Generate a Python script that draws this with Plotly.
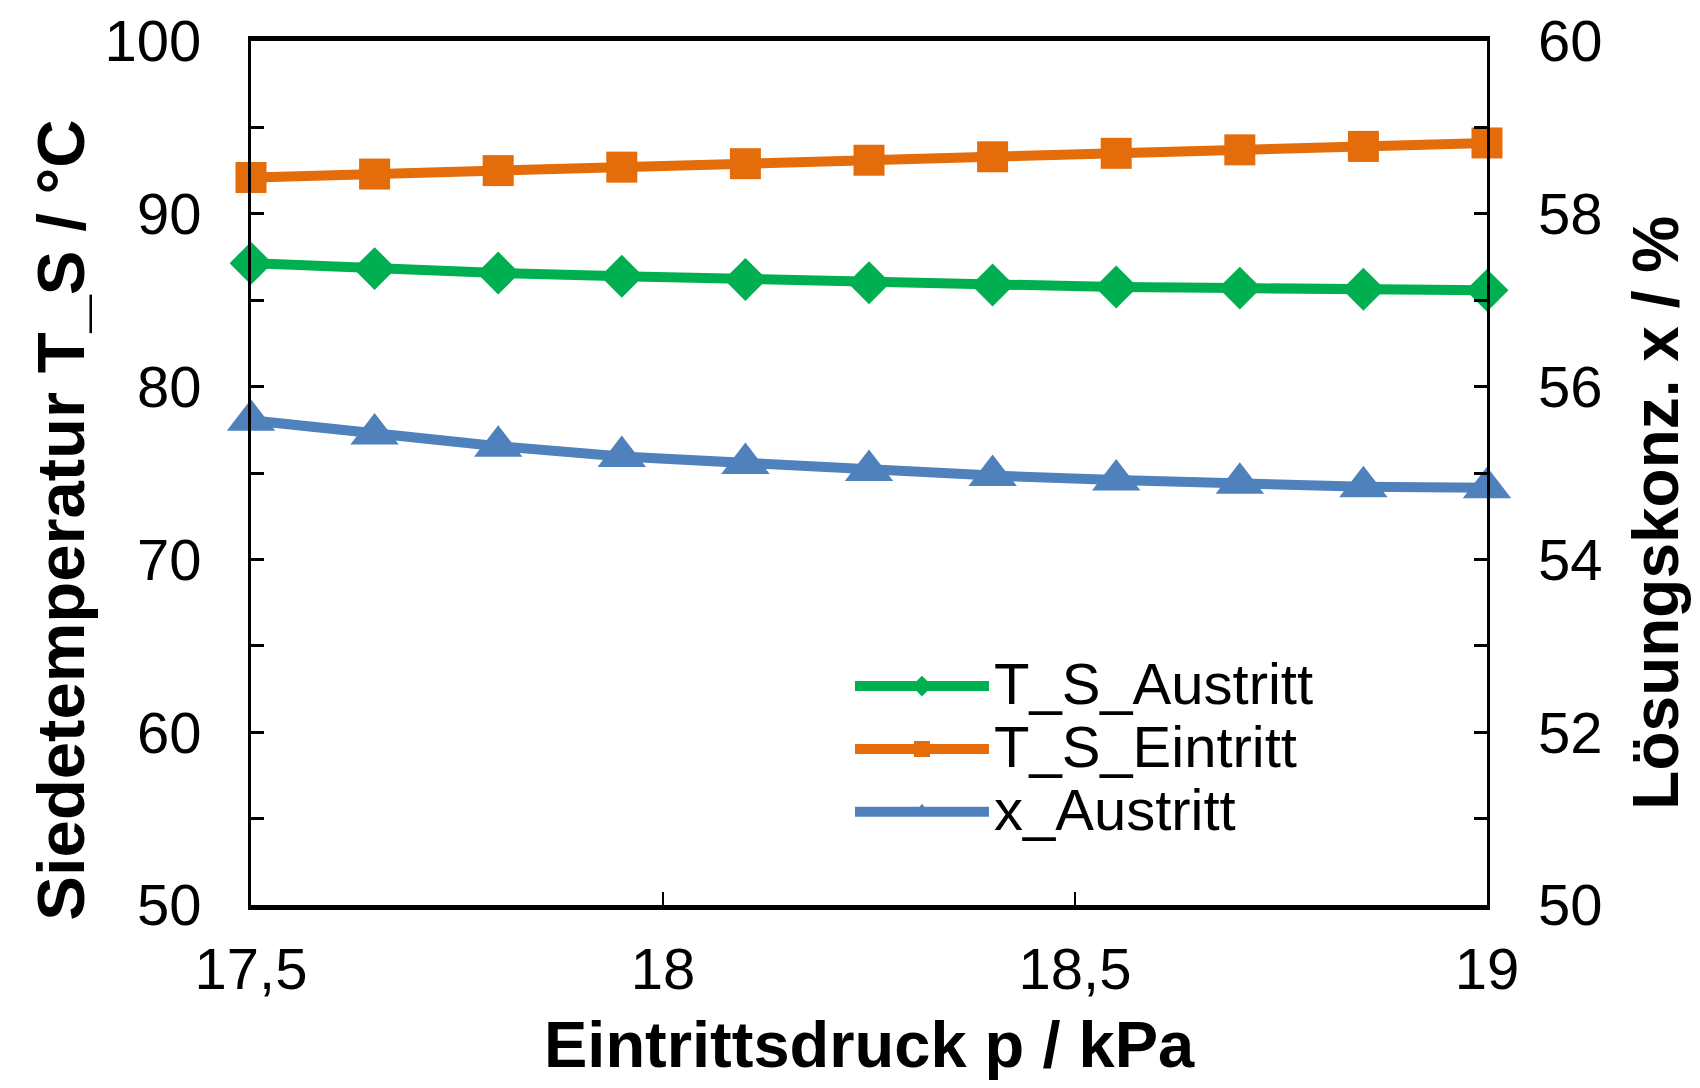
import plotly.graph_objects as go

# Data
pressure = [17.5, 17.65, 17.8, 17.95, 18.1, 18.25, 18.4, 18.55, 18.7, 18.85, 19.0]
ts_austritt = [87.14, 86.83, 86.57, 86.39, 86.20, 86.01, 85.88, 85.76, 85.70, 85.63, 85.57]
ts_eintritt = [92.1, 92.3, 92.5, 92.7, 92.9, 93.1, 93.3, 93.5, 93.7, 93.9, 94.1]
x_austritt = [55.61, 55.45, 55.31, 55.19, 55.11, 55.03, 54.97, 54.92, 54.88, 54.84, 54.83]

x_tickvals = [17.5, 18, 18.5, 19]
x_ticktext = ["17,5", "18", "18,5", "19"]

series_names = ["T_S_Austritt", "T_S_Eintritt", "x_Austritt"]

FONT = "Liberation Sans, Arial, sans-serif"
GREEN = "#00B050"
ORANGE = "#E46C0A"
BLUE = "#4F81BD"


def legend_name(s):
    return '<span style="font-size:58px">' + s + '</span>'


fig = go.Figure()
fig.add_trace(go.Scatter(
    x=pressure, y=ts_austritt, name=legend_name(series_names[0]), mode="lines+markers",
    line=dict(color=GREEN, width=10), cliponaxis=False,
    marker=dict(symbol="diamond", size=33, color=GREEN),
))
fig.add_trace(go.Scatter(
    x=pressure, y=ts_eintritt, name=legend_name(series_names[1]), mode="lines+markers",
    line=dict(color=ORANGE, width=10), cliponaxis=False,
    marker=dict(symbol="square", size=31, color=ORANGE),
))
fig.add_trace(go.Scatter(
    x=pressure, y=x_austritt, name=legend_name(series_names[2]), mode="lines+markers", yaxis="y2",
    line=dict(color=BLUE, width=10), cliponaxis=False,
    marker=dict(symbol="triangle-up", size=42, color=BLUE),
))

fig.update_layout(
    width=1684, height=1072,
    margin=dict(l=242.5, r=204.5, t=33, b=175, autoexpand=False),
    paper_bgcolor="white", plot_bgcolor="white",
    font=dict(family=FONT, size=58, color="black"),
    showlegend=True,
    legend=dict(
        x=0.4846, y=0.2955, xanchor="left", yanchor="top",
        bgcolor="rgba(0,0,0,0)", borderwidth=0,
        font=dict(family=FONT, size=46, color="black"),
        itemwidth=134, tracegroupgap=0,
    ),
    xaxis=dict(
        range=[17.5, 19], tickvals=x_tickvals, ticktext=x_ticktext,
        showline=True, linecolor="black", linewidth=5, mirror=True,
        ticks="inside", ticklen=13, tickwidth=2, tickcolor="black",
        showgrid=False, zeroline=False, ticklabelstandoff=9, automargin=False,
        tickfont=dict(size=58),
    ),
    yaxis=dict(
        range=[50, 100], dtick=10, tick0=50,
        showline=True, linecolor="black", linewidth=3, mirror=True,
        ticks="inside", ticklen=13, tickwidth=3, tickcolor="black",
        minor=dict(dtick=5, tick0=50, ticks="inside", ticklen=13, tickwidth=3, tickcolor="black", showgrid=False),
        showgrid=False, zeroline=False, ticklabelstandoff=35, automargin=False,
        tickfont=dict(size=58),
    ),
    yaxis2=dict(
        range=[50, 60], dtick=2, tick0=50, overlaying="y", side="right",
        showline=False,
        ticks="inside", ticklen=13, tickwidth=3, tickcolor="black",
        minor=dict(dtick=1, tick0=50, ticks="inside", ticklen=13, tickwidth=3, tickcolor="black", showgrid=False),
        showgrid=False, zeroline=False, ticklabelstandoff=50, automargin=False,
        tickfont=dict(size=58),
    ),
    annotations=[
        dict(text="<b>Siedetemperatur T_S / °C</b>", xref="paper", yref="paper",
             x=-0.1544, y=0.445, xanchor="center", yanchor="middle", textangle=-90,
             showarrow=False, font=dict(family=FONT, size=67, color="black")),
        dict(text="<b>Lösungskonz. x / %</b>", xref="paper", yref="paper",
             x=1.137, y=0.4545, xanchor="center", yanchor="middle", textangle=-90,
             showarrow=False, font=dict(family=FONT, size=64, color="black")),
        dict(text="<b>Eintrittsdruck p / kPa</b>", xref="paper", yref="paper",
             x=0.5, y=-0.162, xanchor="center", yanchor="middle",
             showarrow=False, font=dict(family=FONT, size=65, color="black")),
    ],
)

fig.write_html("out.html")
